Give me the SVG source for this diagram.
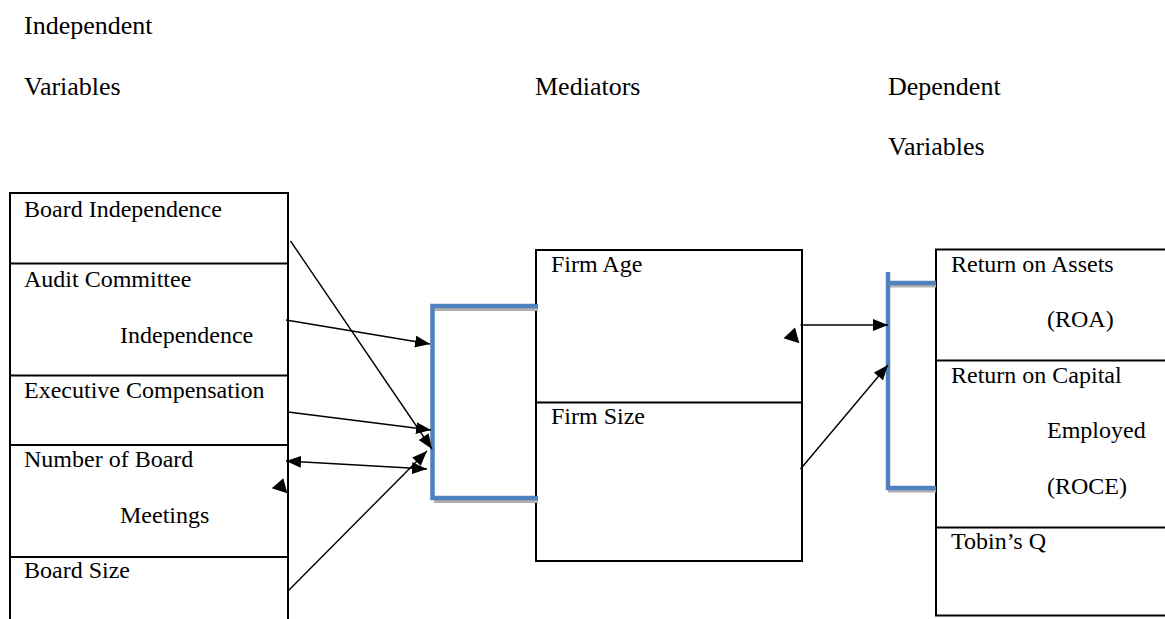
<svg xmlns="http://www.w3.org/2000/svg" width="1165" height="619" viewBox="0 0 1165 619">
<style>
text{font-family:"Liberation Serif","Times New Roman",serif;fill:#000}
.h{font-size:26px}
.t{font-size:24px}
.box{fill:#fff;stroke:#000;stroke-width:2}
.div{stroke:#000;stroke-width:2}
.conn{stroke:#000;stroke-width:1.4;fill:none}
.br{stroke:#4f81bd;stroke-width:4.5;fill:none}
.sh{stroke:#b0b0b0;stroke-width:3;fill:none}
</style>
<defs>
<marker id="ah" markerUnits="userSpaceOnUse" markerWidth="16" markerHeight="12" refX="15" refY="6" orient="auto">
<path d="M0,0 L15,6 L0,12 Z" fill="#000"/>
</marker>
<marker id="as" markerUnits="userSpaceOnUse" markerWidth="16" markerHeight="12" refX="1" refY="6" orient="auto">
<path d="M16,0 L1,6 L16,12 Z" fill="#000"/>
</marker>
</defs>
<rect width="1165" height="619" fill="#fff"/>
<g id="headers">
<text class="h" x="24" y="34">Independent</text>
<text class="h" x="24" y="95">Variables</text>
<text class="h" x="535" y="95">Mediators</text>
<text class="h" x="888" y="95">Dependent</text>
<text class="h" x="888" y="155">Variables</text>
</g>
<g id="independent">
<rect class="box" x="10" y="193" width="278" height="440"/>
<line class="div" x1="10" y1="263.5" x2="288" y2="263.5"/>
<line class="div" x1="10" y1="375.5" x2="288" y2="375.5"/>
<line class="div" x1="10" y1="445" x2="288" y2="445"/>
<line class="div" x1="10" y1="557" x2="288" y2="557"/>
<text class="t" x="24" y="217">Board Independence</text>
<text class="t" x="24" y="287">Audit Committee</text>
<text class="t" x="120" y="343">Independence</text>
<text class="t" x="24" y="398">Executive Compensation</text>
<text class="t" x="24" y="467">Number of Board</text>
<text class="t" x="120" y="523">Meetings</text>
<text class="t" x="24" y="578">Board Size</text>
</g>
<g id="mediators">
<rect class="box" x="536" y="250" width="266" height="311"/>
<line class="div" x1="536" y1="402.5" x2="802" y2="402.5"/>
<text class="t" x="551" y="272">Firm Age</text>
<text class="t" x="551" y="424">Firm Size</text>
</g>
<g id="dependent">
<rect class="box" x="936" y="249.5" width="240" height="366"/>
<line class="div" x1="936" y1="360.5" x2="1166" y2="360.5"/>
<line class="div" x1="936" y1="527.5" x2="1166" y2="527.5"/>
<text class="t" x="951" y="272">Return on Assets</text>
<text class="t" x="1047" y="327">(ROA)</text>
<text class="t" x="951" y="383">Return on Capital</text>
<text class="t" x="1047" y="438">Employed</text>
<text class="t" x="1047" y="494">(ROCE)</text>
<text class="t" x="951" y="549">Tobin’s Q</text>
</g>
<g id="bracket-left">
<path class="sh" d="M434,309.5 H538 M434,501.5 H538"/>
<path class="br" d="M538,306 H432.5 V498 H538"/>
</g>
<g id="bracket-right">
<path class="sh" d="M888,286 H936 M888,491 H936"/>
<path class="br" d="M888,272 V488 H936 M888,283 H936"/>
</g>
<g id="connectors">
<line class="conn" x1="290.5" y1="241" x2="432" y2="449" marker-end="url(#ah)"/>
<line class="conn" x1="286" y1="320" x2="430" y2="344" marker-end="url(#ah)"/>
<line class="conn" x1="288" y1="412" x2="431" y2="430" marker-end="url(#ah)"/>
<line class="conn" x1="286" y1="461" x2="427" y2="469" marker-start="url(#as)" marker-end="url(#ah)"/>
<line class="conn" x1="288" y1="591" x2="427" y2="451" marker-end="url(#ah)"/>
<line class="conn" x1="800.5" y1="325" x2="888" y2="325" marker-end="url(#ah)"/>
<line class="conn" x1="800.5" y1="469" x2="888" y2="365" marker-end="url(#ah)"/>
<polygon points="271.7,488.3 283.3,478.3 287.3,493.3" fill="#000"/>
<polygon points="783.5,338.3 795,327.5 799.3,343.3" fill="#000"/>
</g>
</svg>
